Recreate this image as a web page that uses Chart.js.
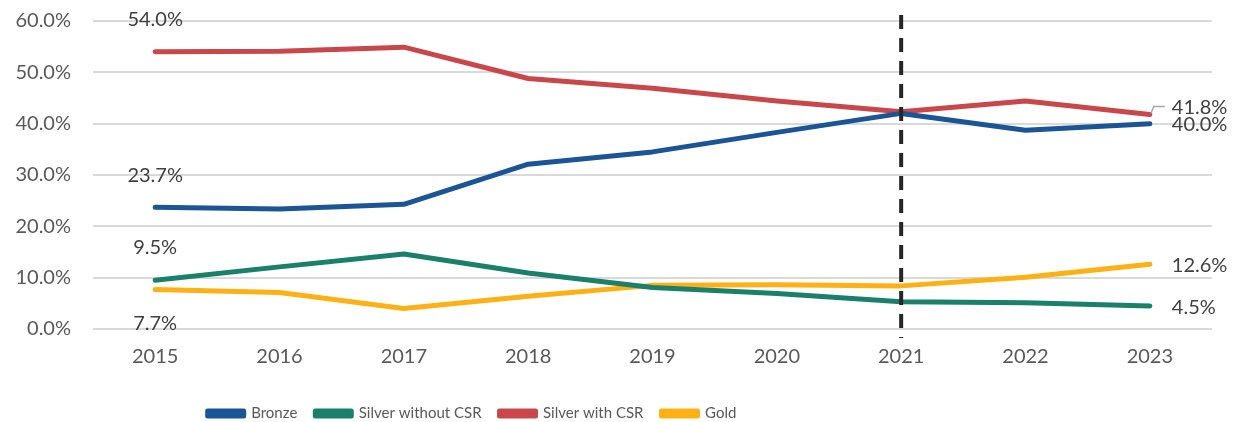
<!DOCTYPE html>
<html>
<head>
<meta charset="utf-8">
<script src="https://cdn.jsdelivr.net/npm/chart.js@4/dist/chart.umd.min.js"></script>
<style>
  html, body { margin: 0; padding: 0; background: #fff; }
  #wrap { width: 1234px; height: 422px; }
</style>
</head>
<body>
<div id="wrap"><canvas id="chart"></canvas></div>
<script>
const years = ['2015', '2016', '2017', '2018', '2019', '2020', '2021', '2022', '2023'];
const bronze = [23.7, 23.4, 24.3, 32.1, 34.5, 38.3, 42.0, 38.7, 40.0];
const silverNoCsr = [9.5, 12.1, 14.6, 10.9, 8.1, 6.9, 5.3, 5.1, 4.5];
const silverCsr = [54.0, 54.1, 54.9, 48.8, 46.9, 44.4, 42.3, 44.4, 41.8];
const gold = [7.7, 7.1, 4.0, 6.4, 8.5, 8.6, 8.4, 10.1, 12.6];
const yTicks = [0, 10, 20, 30, 40, 50, 60];
const markerYear = '2021';

const FONT = 'Lato, "Open Sans", sans-serif';

// first/last value labels, like the spreadsheet original
const endLabels = {
  id: 'endLabels',
  afterDatasetsDraw(chart) {
    const ctx = chart.ctx;
    const firstDy = [-32, -33, -32, 34];
    const lastDy = [1, 2, -7, 1];
    ctx.save();
    ctx.font = '20px ' + FONT;
    ctx.fillStyle = '#404040';
    ctx.textBaseline = 'middle';
    chart.data.datasets.forEach((ds, i) => {
      const pts = chart.getDatasetMeta(i).data;
      const first = pts[0], last = pts[pts.length - 1];
      ctx.textAlign = 'center';
      ctx.fillText(ds.data[0].toFixed(1) + '%', first.x, first.y + firstDy[i]);
      ctx.textAlign = 'left';
      ctx.fillText(ds.data[ds.data.length - 1].toFixed(1) + '%', last.x + 22, last.y + lastDy[i]);
      if (i === 2) {
        // small leader line for 41.8%
        ctx.strokeStyle = '#a6a6a6';
        ctx.lineWidth = 1.5;
        ctx.beginPath();
        ctx.moveTo(last.x + 1, last.y - 1);
        ctx.lineTo(last.x + 4, last.y - 8);
        ctx.lineTo(last.x + 15, last.y - 8);
        ctx.stroke();
      }
    });
    ctx.restore();
  }
};

const markerLine = {
  id: 'markerLine',
  afterDatasetsDraw(chart) {
    const ctx = chart.ctx;
    const x = chart.scales.x.getPixelForValue(years.indexOf(markerYear));
    ctx.save();
    ctx.strokeStyle = '#262626';
    ctx.lineWidth = 4;
    ctx.setLineDash([14, 9]);
    ctx.beginPath();
    ctx.moveTo(x, 15);
    ctx.lineTo(x, chart.chartArea.bottom + 9);
    ctx.stroke();
    ctx.restore();
  }
};

// legend: short strip at the very bottom, centred a bit left like the original
const legendTweak = {
  id: 'legendTweak',
  beforeLayout(chart) {
    const lg = chart.legend;
    if (lg && !lg._fixed) {
      const fit = lg.fit;
      lg.fit = function () {
        fit.call(this);
        this.height = 34;
      };
      lg._fixed = true;
    }
  },
  afterLayout(chart) {
    const lg = chart.legend;
    if (lg) {
      lg.left -= 138;
      lg.right -= 138;
    }
  }
};

new Chart(document.getElementById('chart'), {
  type: 'line',
  data: {
    labels: years,
    datasets: [
      { label: 'Bronze', data: bronze, borderColor: '#1b5596', backgroundColor: '#1b5596' },
      { label: 'Silver without CSR', data: silverNoCsr, borderColor: '#1a806a', backgroundColor: '#1a806a' },
      { label: 'Silver with CSR', data: silverCsr, borderColor: '#c9474a', backgroundColor: '#c9474a' },
      { label: 'Gold', data: gold, borderColor: '#fdb114', backgroundColor: '#fdb114' }
    ]
  },
  options: {
    responsive: true,
    maintainAspectRatio: false,
    animation: false,
    layout: { padding: { top: 0, right: 22, left: 8, bottom: 0 } },
    elements: {
      line: { borderWidth: 5, tension: 0, borderCapStyle: 'round', borderJoinStyle: 'round' },
      point: { radius: 0, hoverRadius: 0 }
    },
    scales: {
      x: {
        offset: true,
        grid: { display: false },
        border: { display: false },
        afterFit: (axis) => { axis.height = 59; },
        ticks: { color: '#595959', font: { family: FONT, size: 20 }, padding: 8 }
      },
      y: {
        min: 0,
        max: 60,
        afterBuildTicks: (axis) => { axis.ticks = yTicks.map(v => ({ value: v })); },
        afterFit: (axis) => {
          axis.width = 85;
          axis.paddingTop = 21;
          axis.paddingBottom = 0;
        },
        grid: { color: '#d9d9d9', lineWidth: 2, drawTicks: false },
        border: { display: false },
        ticks: {
          color: '#595959',
          font: { family: FONT, size: 20 },
          padding: 22,
          callback: (v) => v.toFixed(1) + '%'
        }
      }
    },
    plugins: {
      legend: {
        position: 'bottom',
        labels: {
          color: '#595959',
          font: { family: FONT, size: 15 },
          boxWidth: 36,
          boxHeight: 5,
          padding: 18
        }
      },
      tooltip: { enabled: false }
    }
  },
  plugins: [endLabels, markerLine, legendTweak]
});
</script>
</body>
</html>
